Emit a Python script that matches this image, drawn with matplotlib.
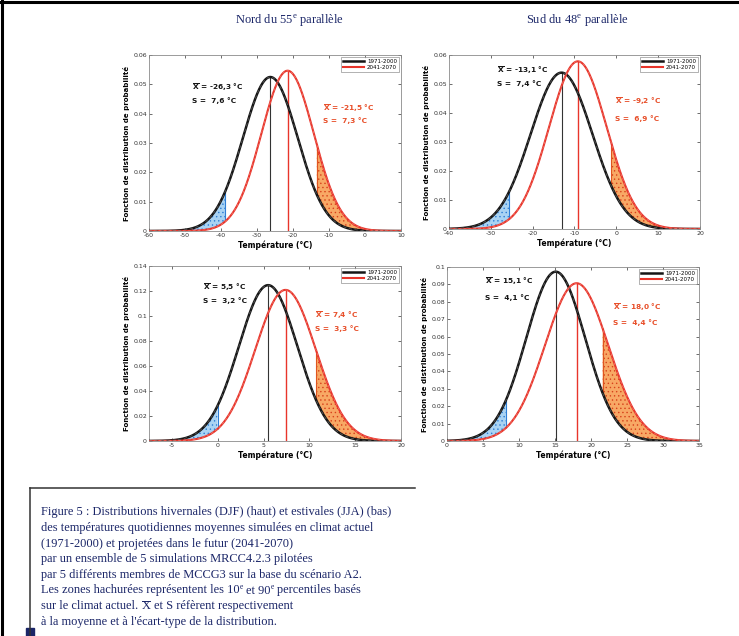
import numpy as np
import matplotlib
matplotlib.use("Agg")
import matplotlib.pyplot as plt
from matplotlib.lines import Line2D
from matplotlib.patches import Rectangle
from matplotlib.ticker import MultipleLocator, FuncFormatter

# ---- data -------------------------------------------------------------
column_titles = ["Nord du 55$^{\\mathrm{e}}$ parallèle", "Sud du 48$^{\\mathrm{e}}$ parallèle"]
periods = ["1971-2000", "2041-2070"]

# panels: DJF nord, DJF sud, JJA nord, JJA sud
hist_mean = [-26.3, -13.1, 5.5, 15.1]
hist_std = [7.6, 7.4, 3.2, 4.1]
fut_mean = [-21.5, -9.2, 7.4, 18.0]
fut_std = [7.3, 6.9, 3.3, 4.4]
hist_p10 = [-38.8, -25.6, 0.0, 8.2]
hist_p90 = [-13.4, -1.3, 10.7, 21.6]

x_limits = [(-60, 10), (-40, 20), (-7.5, 20), (0, 35)]
x_tick_step = [10, 10, 5, 5]
y_limits = [(0, 0.06), (0, 0.06), (0, 0.14), (0, 0.10)]
y_tick_step = [0.01, 0.01, 0.02, 0.01]

# caption runs: (text, style) where style is "n" normal, "sup" superscript, "bar" overlined
caption_lines = [
    [("Figure 5 : Distributions hivernales (DJF) (haut) et estivales (JJA) (bas)", "n")],
    [("des températures quotidiennes moyennes simulées en climat actuel", "n")],
    [("(1971-2000) et projetées dans le futur (2041-2070)", "n")],
    [("par un ensemble de 5 simulations MRCC4.2.3 pilotées", "n")],
    [("par 5 différents membres de MCCG3 sur la base du scénario A2.", "n")],
    [("Les zones hachurées représentent les 10", "n"), ("e", "sup"),
     (" et 90", "n"), ("e", "sup"), (" percentiles basés", "n")],
    [("sur le climat actuel. ", "n"), ("X", "bar"), (" et S réfèrent respectivement", "n")],
    [("à la moyenne et à l'écart-type de la distribution.", "n")],
]

# ---- layout -----------------------------------------------------------
W, H = 739, 636
plt.rcParams["mathtext.fontset"] = "custom"
plt.rcParams["mathtext.rm"] = "Liberation Serif"
plt.rcParams["mathtext.it"] = "Liberation Serif:italic"
plt.rcParams["mathtext.bf"] = "Liberation Serif:bold"
plt.rcParams["hatch.linewidth"] = 0.5

fig = plt.figure(figsize=(W / 100, H / 100), dpi=100)
fig.patch.set_facecolor("white")
renderer = fig.canvas.get_renderer()

# axes boxes in pixels: left, top, right, bottom
boxes_px = [(149, 55, 401, 231), (449, 55, 700, 229),
            (149, 266, 401, 441), (447, 267, 699, 441)]
# text anchors (axes fraction): black X, black S, red X, red S
label_pos = [
    [(0.17, 0.82), (0.17, 0.74), (0.69, 0.70), (0.69, 0.63)],
    [(0.19, 0.915), (0.19, 0.835), (0.66, 0.735), (0.66, 0.635)],
    [(0.215, 0.88), (0.215, 0.80), (0.66, 0.72), (0.66, 0.645)],
    [(0.15, 0.92), (0.15, 0.825), (0.66, 0.77), (0.66, 0.68)],
]

BLACK = "#151515"
RED = "#e8352b"
NAVY = "#1b2668"


def pdf(x, m, s):
    return np.exp(-0.5 * ((x - m) / s) ** 2) / (s * np.sqrt(2 * np.pi))


def fmt(v):
    return f"{v:.1f}".replace(".", ",")


for i in range(4):
    l, t, r, b = boxes_px[i]
    ax = fig.add_axes([l / W, 1 - b / H, (r - l) / W, (b - t) / H])
    x = np.linspace(x_limits[i][0], x_limits[i][1], 600)
    yh = pdf(x, hist_mean[i], hist_std[i])
    yf = pdf(x, fut_mean[i], fut_std[i])

    # shaded tails between the two distributions
    lo = x <= hist_p10[i]
    hi = x >= hist_p90[i]
    ax.fill_between(x, yf, yh, where=lo, facecolor="#a9d3f3", edgecolor="#2f7fd6",
                    hatch="....", linewidth=0, zorder=1)
    ax.fill_between(x, yh, yf, where=hi, facecolor="#f8a865", edgecolor="#d8421c",
                    hatch="....", linewidth=0, zorder=1)
    ax.vlines(hist_p10[i], pdf(hist_p10[i], fut_mean[i], fut_std[i]),
              pdf(hist_p10[i], hist_mean[i], hist_std[i]), color="#2f7fd6", lw=0.8, zorder=2)
    ax.vlines(hist_p90[i], pdf(hist_p90[i], hist_mean[i], hist_std[i]),
              pdf(hist_p90[i], fut_mean[i], fut_std[i]), color="#e0551f", lw=0.8, zorder=2)

    # mean markers
    ax.vlines(hist_mean[i], 0, pdf(hist_mean[i], hist_mean[i], hist_std[i]),
              color="#333333", lw=0.8, zorder=3)
    ax.vlines(fut_mean[i], 0, pdf(fut_mean[i], fut_mean[i], fut_std[i]),
              color=RED, lw=1.0, zorder=3)

    ax.plot(x, yh, color=BLACK, lw=1.8, zorder=4, label=periods[0])
    ax.plot(x, yf, color=RED, lw=1.5, zorder=4, label=periods[1])
    ax.plot(x, yh, color="#555555", lw=0.6, ls=(0, (4, 3)), zorder=5)
    ax.plot(x, yf, color="#f07a70", lw=0.5, ls=(0, (4, 3)), zorder=5)

    ax.set_xlim(*x_limits[i])
    ax.set_ylim(*y_limits[i])
    ax.xaxis.set_major_locator(MultipleLocator(x_tick_step[i]))
    ax.yaxis.set_major_locator(MultipleLocator(y_tick_step[i]))
    ax.yaxis.set_major_formatter(FuncFormatter(lambda v, p: f"{round(v, 4):g}"))
    ax.xaxis.set_major_formatter(FuncFormatter(lambda v, p: f"{round(v, 4):g}"))
    ax.tick_params(direction="in", length=2.5, width=0.5, labelsize=4.5,
                   top=True, right=True, pad=1.5, colors="#333333")
    for sp in ax.spines.values():
        sp.set_color("#8a8a8a")
        sp.set_linewidth(0.6)

    ax.set_xlabel("Température (°C)", fontsize=5.5, fontweight="bold", labelpad=1.5)
    ax.set_ylabel("Fonction de distribution de probabilité", fontsize=5,
                  fontweight="bold", labelpad=2)

    leg = ax.legend(loc="upper right", fontsize=4, handlelength=3.8, frameon=True,
                    fancybox=False, borderpad=0.35, labelspacing=0.2,
                    borderaxespad=0.35, handletextpad=0.6)
    leg.get_frame().set_edgecolor("#777777")
    leg.get_frame().set_linewidth(0.5)

    xbar = r"$\overline{\mathbf{X}}$"
    pos = label_pos[i]
    ax.text(*pos[0], f"{xbar} = {fmt(hist_mean[i])} °C", transform=ax.transAxes,
            fontsize=5.3, fontweight="bold", color=BLACK, va="center",
            math_fontfamily="dejavusans")
    ax.text(*pos[1], f"S =  {fmt(hist_std[i])} °C", transform=ax.transAxes,
            fontsize=5.3, fontweight="bold", color=BLACK, va="center")
    ax.text(*pos[2], f"{xbar} = {fmt(fut_mean[i])} °C", transform=ax.transAxes,
            fontsize=5.3, fontweight="bold", color="#e8502b", va="center",
            math_fontfamily="dejavusans")
    ax.text(*pos[3], f"S =  {fmt(fut_std[i])} °C", transform=ax.transAxes,
            fontsize=5.3, fontweight="bold", color="#e8502b", va="center")

# column headings
for cx, title in zip([289, 577], column_titles):
    fig.text(cx / W, 1 - 23 / H, title, ha="center", va="baseline", fontsize=9,
             color=NAVY, family="Liberation Serif")


# caption, written run by run so superscripts and the overline sit inline
CAP_FS = 8.9


def text_width(s, fs):
    t = fig.text(0, 0, s, fontsize=fs, family="Liberation Serif")
    w = t.get_window_extent(renderer=renderer).width
    t.remove()
    return w


space_w = text_width("a a", CAP_FS) - text_width("aa", CAP_FS)

for k, runs in enumerate(caption_lines):
    xp = 41.0
    yp = 515.5 + k * 15.6
    for s, style in runs:
        lead = len(s) - len(s.lstrip(" "))
        trail = len(s) - len(s.rstrip(" "))
        core = s.strip(" ")
        xp += lead * space_w
        fs = CAP_FS * 0.62 if style == "sup" else CAP_FS
        dy = -4.2 if style == "sup" else 0.0
        t = fig.text(xp / W, 1 - (yp + dy) / H, core, ha="left", va="baseline",
                     fontsize=fs, color=NAVY, family="Liberation Serif")
        w = t.get_window_extent(renderer=renderer).width
        if style == "bar":
            fig.add_artist(Line2D([(xp + 0.5) / W, (xp + w - 0.5) / W],
                                  [1 - (yp - 8.2) / H] * 2, color=NAVY, lw=0.7))
        xp += w + trail * space_w

# page frame and caption rules
fig.add_artist(Line2D([0, 1], [1 - 1.5 / H] * 2, color="black", lw=2.2))
fig.add_artist(Line2D([1.5 / W] * 2, [0, 1], color="black", lw=2.2))
fig.add_artist(Line2D([30 / W, 415 / W], [1 - 488 / H] * 2, color="#333333", lw=1.1))
fig.add_artist(Line2D([30 / W] * 2, [0, 1 - 488 / H], color="#333333", lw=1.1))
fig.add_artist(Rectangle((26 / W, 0), 8 / W, 8 / H, color=NAVY, transform=fig.transFigure))

fig.savefig("out.png", dpi=100, facecolor="white")
